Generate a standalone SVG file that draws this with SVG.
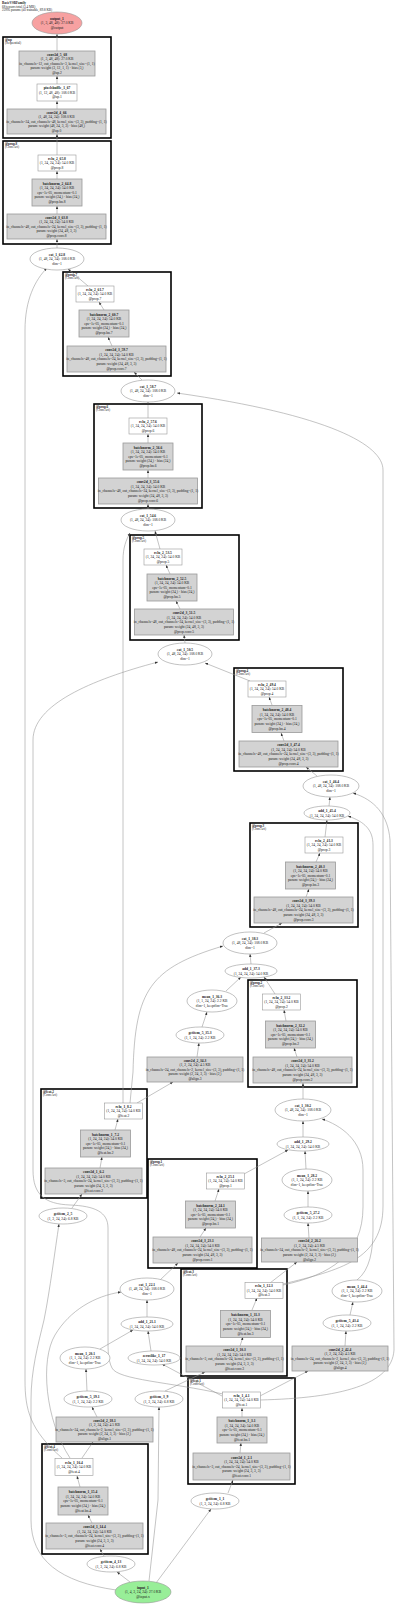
<svg xmlns="http://www.w3.org/2000/svg" width="400" height="1605" viewBox="0 0 400 1605">
<defs>
<marker id="a" viewBox="0 0 10 10" refX="10" refY="5" markerWidth="3" markerHeight="3" markerUnits="userSpaceOnUse" orient="auto"><path d="M0,1 L10,5 L0,9 z" fill="#333"/></marker>
<style>
text{font-family:"Liberation Serif",serif;font-size:3.6px;text-anchor:middle;fill:#222}
text.b{font-weight:bold}
text.h{text-anchor:start;font-size:3.3px}
rect.g{fill:#d3d3d3;stroke:#999;stroke-width:0.8}
rect.w{fill:#fff;stroke:#999;stroke-width:0.6}
ellipse.e{fill:#fff;stroke:#999;stroke-width:0.6}
rect.c{fill:none;stroke:#000;stroke-width:1.6}
#edges path{fill:none;stroke:#929292;stroke-width:0.55;marker-end:url(#a)}
</style>
</defs>
<rect width="400" height="1605" fill="#fff"/>
<g id="header">
<text class="h b" x="2" y="4">BasicVSRFamily</text>
<text class="h" x="2" y="7.5">68 tensors total (3.4 MB)</text>
<text class="h" x="2" y="11">22995 params (all trainable, 89.8 KB)</text>
</g>
<g id="clusters">
<g id="c_up"><rect class="c" x="3" y="37" width="108" height="101"/><text class="h b" x="5" y="40.5">@up</text><text class="h" x="5" y="44">(Sequential)</text></g>
<g id="c_prop8"><rect class="c" x="3" y="141" width="108" height="103"/><text class="h b" x="5" y="144.5">@prop.8</text><text class="h" x="5" y="148">(ConvAct)</text></g>
<g id="c_prop7"><rect class="c" x="63" y="272" width="108" height="104"/><text class="h b" x="65" y="275.5">@prop.7</text><text class="h" x="65" y="279">(ConvAct)</text></g>
<g id="c_prop6"><rect class="c" x="94" y="404" width="108" height="104"/><text class="h b" x="96" y="407.5">@prop.6</text><text class="h" x="96" y="411">(ConvAct)</text></g>
<g id="c_prop5"><rect class="c" x="130" y="535" width="109" height="105"/><text class="h b" x="132" y="538.5">@prop.5</text><text class="h" x="132" y="542">(ConvAct)</text></g>
<g id="c_prop4"><rect class="c" x="234" y="668" width="109" height="103"/><text class="h b" x="236" y="671.5">@prop.4</text><text class="h" x="236" y="675">(ConvAct)</text></g>
<g id="c_prop3"><rect class="c" x="250" y="823" width="108" height="104"/><text class="h b" x="252" y="826.5">@prop.3</text><text class="h" x="252" y="830">(ConvAct)</text></g>
<g id="c_prop2"><rect class="c" x="248" y="980" width="109" height="107"/><text class="h b" x="250" y="983.5">@prop.2</text><text class="h" x="250" y="987">(ConvAct)</text></g>
<g id="c_feat2"><rect class="c" x="41" y="1089" width="106" height="109"/><text class="h b" x="43" y="1092.5">@feat.2</text><text class="h" x="43" y="1096">(ConvAct)</text></g>
<g id="c_prop1"><rect class="c" x="148" y="1159" width="109" height="109"/><text class="h b" x="150" y="1162.5">@prop.1</text><text class="h" x="150" y="1166">(ConvAct)</text></g>
<g id="c_feat3"><rect class="c" x="181" y="1269" width="106" height="107"/><text class="h b" x="183" y="1272.5">@feat.3</text><text class="h" x="183" y="1276">(ConvAct)</text></g>
<g id="c_feat1"><rect class="c" x="188" y="1378" width="107" height="106"/><text class="h b" x="190" y="1381.5">@feat.1</text><text class="h" x="190" y="1385">(ConvAct)</text></g>
<g id="c_feat4"><rect class="c" x="42" y="1444" width="106" height="110"/><text class="h b" x="44" y="1447.5">@feat.4</text><text class="h" x="44" y="1451">(ConvAct)</text></g>
</g>
<g id="edges">
<path d="M57,109 L57,101"/>
<path d="M57,84 L57,76"/>
<path d="M57,51 L57,34"/>
<path d="M57,155 L57,134"/>
<path d="M57,179 L57,171"/>
<path d="M57,214 L57,206"/>
<path d="M57,248 L57,239"/>
<path d="M88,286 L68,269"/>
<path d="M104,310 L99,302"/>
<path d="M112,346 L108,337"/>
<path d="M142,380 L134,372"/>
<path d="M148,418 L148,402"/>
<path d="M148,443 L148,434"/>
<path d="M148,478 L148,470"/>
<path d="M148,509 L148,504"/>
<path d="M160,549 L155,531"/>
<path d="M170,574 L166,565"/>
<path d="M180,609 L176,601"/>
<path d="M185,643 L184,635"/>
<path d="M250,681 L205,663"/>
<path d="M272,705 L269,697"/>
<path d="M284,741 L281,733"/>
<path d="M317,776 L306,767"/>
<path d="M329,806 L330,797"/>
<path d="M325,837 L327,820"/>
<path d="M316,862 L320,853"/>
<path d="M306,897 L309,889"/>
<path d="M264,933 L282,923"/>
<path d="M251,964 L250,954"/>
<path d="M226,991 L241,977"/>
<path d="M275,994 L264,977"/>
<path d="M202,1027 L207,1012"/>
<path d="M197,1057 L199,1043"/>
<path d="M137,1103 L173,1082"/>
<path d="M297,1057 L294,1048"/>
<path d="M286,1021 L284,1010"/>
<path d="M303,1099 L303,1083"/>
<path d="M303,1137 L303,1121"/>
<path d="M244,1174 L288,1150"/>
<path d="M306,1169 L305,1151"/>
<path d="M308,1207 L308,1191"/>
<path d="M309,1238 L308,1223"/>
<path d="M270,1283 L297,1262"/>
<path d="M283,1285 C330,1275 363,1255 363,1207 L363,1170 C363,1140 340,1125 322,1119"/>
<path d="M283,1284 C340,1270 383,1260 383,1206 L383,470 C383,445 330,415 177,393"/>
<path d="M100,1168 L102,1157"/>
<path d="M115,1130 L118,1119"/>
<path d="M72,1208 L82,1194"/>
<path d="M123,1103 L123,560 C123,548 126,540 130,533"/>
<path d="M130,1103 L133,1072 C135,990 150,968 223,946"/>
<path d="M200,1237 L206,1228"/>
<path d="M215,1201 L219,1189"/>
<path d="M160,1280 L178,1263"/>
<path d="M147,1317 L147,1300"/>
<path d="M100,1349 L133,1330"/>
<path d="M151,1351 L148,1331"/>
<path d="M70,1458 C45,1420 40,1360 55,1335 C70,1310 95,1296 121,1292"/>
<path d="M240,1346 L243,1337"/>
<path d="M252,1310 L257,1298"/>
<path d="M165,1391 L205,1372"/>
<path d="M357,1280 C370,1270 373,1250 373,1230 L373,845 C373,830 365,822 348,816"/>
<path d="M350,1315 L353,1302"/>
<path d="M345,1346 L346,1331"/>
<path d="M260,1396 L308,1371"/>
<path d="M260,1400 C340,1398 392,1385 394,1350 L390,840 C388,815 375,800 353,793"/>
<path d="M223,1394 C170,1382 118,1380 112,1368 C108,1360 108,1350 108,1340 L108,1228 C108,1212 95,1206 70,1205 C45,1204 33,1195 33,1170 L33,740 C33,705 90,680 158,662"/>
<path d="M62,1458 C30,1430 25,1410 25,1380 L25,330 C25,300 35,280 47,268"/>
<path d="M116,1590 C60,1582 31,1560 31,1520 L31,1400 C31,1370 38,1345 44,1320 C50,1290 55,1250 59,1224"/>
<path d="M130,1582 L117,1572"/>
<path d="M149,1581 L158,1500 L159,1407"/>
<path d="M156,1583 L211,1509"/>
<path d="M228,1493 L233,1480"/>
<path d="M240,1453 L241,1443"/>
<path d="M242,1417 L242,1408"/>
<path d="M222,1396 L162,1364"/>
<path d="M104,1556 L100,1549"/>
<path d="M92,1523 L88,1515"/>
<path d="M80,1487 L77,1476"/>
<path d="M82,1458 L93,1442"/>
<path d="M97,1417 L92,1407"/>
<path d="M87,1391 L86,1369"/>
</g>
<g id="nodes">
<g id="n_output_1" transform="translate(57,23)"><ellipse cx="0" cy="0" rx="25" ry="11" fill="#f7a1a1" stroke="#999" stroke-width="0.6"/><text class="b" y="-3.3">output_1</text><text y="1.3">(1, 3, 48, 48): 27.0 KB</text><text y="5.9">@output</text></g>
<g id="n_conv2d_5_68" transform="translate(57,63.5)"><rect class="g" x="-38" y="-12.5" width="76" height="25"/><text class="b" y="-7.9">conv2d_5_68</text><text y="-3.3">(1, 3, 48, 48): 27.0 KB</text><text y="1.3">in_channels=12, out_channels=3, kernel_size=(1, 1)</text><text y="5.9">param: weight (3, 12, 1, 1) · bias (3,)</text><text y="10.5">@up.2</text></g>
<g id="n_pixelshuffle_1_67" transform="translate(57,92.5)"><rect class="w" x="-20" y="-8.5" width="40" height="17"/><text class="b" y="-3.3">pixelshuffle_1_67</text><text y="1.3">(1, 12, 48, 48): 108.0 KB</text><text y="5.9">@up.1</text></g>
<g id="n_conv2d_4_66" transform="translate(56.5,121.5)"><rect class="g" x="-49.5" y="-12.5" width="99" height="25"/><text class="b" y="-7.9">conv2d_4_66</text><text y="-3.3">(1, 48, 24, 24): 108.0 KB</text><text y="1.3">in_channels=24, out_channels=48, kernel_size=(3, 3), padding=(1, 1)</text><text y="5.9">param: weight (48, 24, 3, 3) · bias (48,)</text><text y="10.5">@up.0</text></g>

<g id="n_relu_2_65" transform="translate(57,163)"><rect class="w" x="-19" y="-8" width="38" height="16"/><text class="b" y="-3.3">relu_2_65.8</text><text y="1.3">(1, 24, 24, 24): 54.0 KB</text><text y="5.9">@prop.8</text></g>
<g id="n_batchnorm_2_64" transform="translate(57,192.5)"><rect class="g" x="-25" y="-13.5" width="50" height="27"/><text class="b" y="-7.9">batchnorm_2_64.8</text><text y="-3.3">(1, 24, 24, 24): 54.0 KB</text><text y="1.3">eps=1e-05, momentum=0.1</text><text y="5.9">param: weight (24,) · bias (24,)</text><text y="10.5">@prop.bn.8</text></g>
<g id="n_conv2d_3_63" transform="translate(56.5,226.5)"><rect class="g" x="-49.5" y="-12.5" width="99" height="25"/><text class="b" y="-7.9">conv2d_3_63.8</text><text y="-3.3">(1, 24, 24, 24): 54.0 KB</text><text y="1.3">in_channels=48, out_channels=24, kernel_size=(3, 3), padding=(1, 1)</text><text y="5.9">param: weight (24, 48, 3, 3)</text><text y="10.5">@prop.conv.8</text></g>
<g id="n_cat_1_62" transform="translate(57,259)"><ellipse class="e" rx="27" ry="11"/><text class="b" y="-3.3">cat_1_62.8</text><text y="1.3">(1, 48, 24, 24): 108.0 KB</text><text y="5.9">dim=1</text></g>

<g id="n_relu_2_61" transform="translate(95,294)"><rect class="w" x="-19" y="-8" width="38" height="16"/><text class="b" y="-3.3">relu_2_61.7</text><text y="1.3">(1, 24, 24, 24): 54.0 KB</text><text y="5.9">@prop.7</text></g>
<g id="n_batchnorm_2_60" transform="translate(104,323.5)"><rect class="g" x="-25" y="-13.5" width="50" height="27"/><text class="b" y="-7.9">batchnorm_2_60.7</text><text y="-3.3">(1, 24, 24, 24): 54.0 KB</text><text y="1.3">eps=1e-05, momentum=0.1</text><text y="5.9">param: weight (24,) · bias (24,)</text><text y="10.5">@prop.bn.7</text></g>
<g id="n_conv2d_3_59" transform="translate(116.5,359)"><rect class="g" x="-49.5" y="-13" width="99" height="26"/><text class="b" y="-7.9">conv2d_3_59.7</text><text y="-3.3">(1, 24, 24, 24): 54.0 KB</text><text y="1.3">in_channels=48, out_channels=24, kernel_size=(3, 3), padding=(1, 1)</text><text y="5.9">param: weight (24, 48, 3, 3)</text><text y="10.5">@prop.conv.7</text></g>
<g id="n_cat_1_58" transform="translate(148,391)"><ellipse class="e" rx="27" ry="11"/><text class="b" y="-3.3">cat_1_58.7</text><text y="1.3">(1, 48, 24, 24): 108.0 KB</text><text y="5.9">dim=1</text></g>

<g id="n_relu_2_57" transform="translate(148,426)"><rect class="w" x="-19" y="-8" width="38" height="16"/><text class="b" y="-3.3">relu_2_57.6</text><text y="1.3">(1, 24, 24, 24): 54.0 KB</text><text y="5.9">@prop.6</text></g>
<g id="n_batchnorm_2_56" transform="translate(148,456.5)"><rect class="g" x="-25" y="-13.5" width="50" height="27"/><text class="b" y="-7.9">batchnorm_2_56.6</text><text y="-3.3">(1, 24, 24, 24): 54.0 KB</text><text y="1.3">eps=1e-05, momentum=0.1</text><text y="5.9">param: weight (24,) · bias (24,)</text><text y="10.5">@prop.bn.6</text></g>
<g id="n_conv2d_3_55" transform="translate(148,491)"><rect class="g" x="-49.5" y="-13" width="99" height="26"/><text class="b" y="-7.9">conv2d_3_55.6</text><text y="-3.3">(1, 24, 24, 24): 54.0 KB</text><text y="1.3">in_channels=48, out_channels=24, kernel_size=(3, 3), padding=(1, 1)</text><text y="5.9">param: weight (24, 48, 3, 3)</text><text y="10.5">@prop.conv.6</text></g>
<g id="n_cat_1_54" transform="translate(148,520)"><ellipse class="e" rx="27" ry="11"/><text class="b" y="-3.3">cat_1_54.6</text><text y="1.3">(1, 48, 24, 24): 108.0 KB</text><text y="5.9">dim=1</text></g>

<g id="n_relu_2_53" transform="translate(163,557)"><rect class="w" x="-19" y="-8" width="38" height="16"/><text class="b" y="-3.3">relu_2_53.5</text><text y="1.3">(1, 24, 24, 24): 54.0 KB</text><text y="5.9">@prop.5</text></g>
<g id="n_batchnorm_2_52" transform="translate(172,587.5)"><rect class="g" x="-25" y="-13.5" width="50" height="27"/><text class="b" y="-7.9">batchnorm_2_52.5</text><text y="-3.3">(1, 24, 24, 24): 54.0 KB</text><text y="1.3">eps=1e-05, momentum=0.1</text><text y="5.9">param: weight (24,) · bias (24,)</text><text y="10.5">@prop.bn.5</text></g>
<g id="n_conv2d_3_51" transform="translate(184,622)"><rect class="g" x="-49.5" y="-13" width="99" height="26"/><text class="b" y="-7.9">conv2d_3_51.5</text><text y="-3.3">(1, 24, 24, 24): 54.0 KB</text><text y="1.3">in_channels=48, out_channels=24, kernel_size=(3, 3), padding=(1, 1)</text><text y="5.9">param: weight (24, 48, 3, 3)</text><text y="10.5">@prop.conv.5</text></g>
<g id="n_cat_1_50" transform="translate(185,654)"><ellipse class="e" rx="27" ry="11"/><text class="b" y="-3.3">cat_1_50.5</text><text y="1.3">(1, 48, 24, 24): 108.0 KB</text><text y="5.9">dim=1</text></g>

<g id="n_relu_2_49" transform="translate(267,689)"><rect class="w" x="-19" y="-8" width="38" height="16"/><text class="b" y="-3.3">relu_2_49.4</text><text y="1.3">(1, 24, 24, 24): 54.0 KB</text><text y="5.9">@prop.4</text></g>
<g id="n_batchnorm_2_48" transform="translate(277,719)"><rect class="g" x="-25" y="-13.5" width="50" height="27"/><text class="b" y="-7.9">batchnorm_2_48.4</text><text y="-3.3">(1, 24, 24, 24): 54.0 KB</text><text y="1.3">eps=1e-05, momentum=0.1</text><text y="5.9">param: weight (24,) · bias (24,)</text><text y="10.5">@prop.bn.4</text></g>
<g id="n_conv2d_3_47" transform="translate(288.5,754)"><rect class="g" x="-49.5" y="-13" width="99" height="26"/><text class="b" y="-7.9">conv2d_3_47.4</text><text y="-3.3">(1, 24, 24, 24): 54.0 KB</text><text y="1.3">in_channels=48, out_channels=24, kernel_size=(3, 3), padding=(1, 1)</text><text y="5.9">param: weight (24, 48, 3, 3)</text><text y="10.5">@prop.conv.4</text></g>
<g id="n_cat_1_46" transform="translate(331,786)"><ellipse class="e" rx="28" ry="11"/><text class="b" y="-3.3">cat_1_46.4</text><text y="1.3">(1, 48, 24, 24): 108.0 KB</text><text y="5.9">dim=1</text></g>
<g id="n_add_1_45" transform="translate(327,813)"><ellipse class="e" rx="23" ry="7"/><text class="b" y="-1">add_1_45.4</text><text y="3.6">(1, 24, 24, 24): 54.0 KB</text></g>

<g id="n_relu_2_41" transform="translate(324,845)"><rect class="w" x="-19" y="-8" width="38" height="16"/><text class="b" y="-3.3">relu_2_41.3</text><text y="1.3">(1, 24, 24, 24): 54.0 KB</text><text y="5.9">@prop.3</text></g>
<g id="n_batchnorm_2_40" transform="translate(310.5,875.5)"><rect class="g" x="-25" y="-13.5" width="50" height="27"/><text class="b" y="-7.9">batchnorm_2_40.3</text><text y="-3.3">(1, 24, 24, 24): 54.0 KB</text><text y="1.3">eps=1e-05, momentum=0.1</text><text y="5.9">param: weight (24,) · bias (24,)</text><text y="10.5">@prop.bn.3</text></g>
<g id="n_conv2d_3_39" transform="translate(303.5,910)"><rect class="g" x="-49.5" y="-13" width="99" height="26"/><text class="b" y="-7.9">conv2d_3_39.3</text><text y="-3.3">(1, 24, 24, 24): 54.0 KB</text><text y="1.3">in_channels=48, out_channels=24, kernel_size=(3, 3), padding=(1, 1)</text><text y="5.9">param: weight (24, 48, 3, 3)</text><text y="10.5">@prop.conv.3</text></g>
<g id="n_cat_1_38" transform="translate(250,943)"><ellipse class="e" rx="27" ry="11"/><text class="b" y="-3.3">cat_1_38.3</text><text y="1.3">(1, 48, 24, 24): 108.0 KB</text><text y="5.9">dim=1</text></g>
<g id="n_add_1_37" transform="translate(251,971)"><ellipse class="e" rx="26" ry="7"/><text class="b" y="-1">add_1_37.3</text><text y="3.6">(1, 24, 24, 24): 54.0 KB</text></g>
<g id="n_mean_1_36" transform="translate(212,1001)"><ellipse class="e" rx="25" ry="11"/><text class="b" y="-3.3">mean_1_36.3</text><text y="1.3">(1, 1, 24, 24): 2.2 KB</text><text y="5.9">dim=1, keepdim=True</text></g>
<g id="n_getitem_35" transform="translate(200,1035)"><ellipse class="e" rx="24" ry="8"/><text class="b" y="-1">getitem_5_35.3</text><text y="3.6">(1, 1, 24, 24): 2.2 KB</text></g>
<g id="n_conv2d_2_34" transform="translate(195,1069.5)"><rect class="g" x="-48" y="-12.5" width="96" height="25"/><text class="b" y="-7.9">conv2d_2_34.3</text><text y="-3.3">(1, 2, 24, 24): 4.5 KB</text><text y="1.3">in_channels=24, out_channels=2, kernel_size=(3, 3), padding=(1, 1)</text><text y="5.9">param: weight (2, 24, 3, 3) · bias (2,)</text><text y="10.5">@align.3</text></g>

<g id="n_relu_2_33" transform="translate(281.5,1002)"><rect class="w" x="-19" y="-8" width="38" height="16"/><text class="b" y="-3.3">relu_2_33.2</text><text y="1.3">(1, 24, 24, 24): 54.0 KB</text><text y="5.9">@prop.2</text></g>
<g id="n_batchnorm_2_32" transform="translate(290.5,1034.5)"><rect class="g" x="-25" y="-13.5" width="50" height="27"/><text class="b" y="-7.9">batchnorm_2_32.2</text><text y="-3.3">(1, 24, 24, 24): 54.0 KB</text><text y="1.3">eps=1e-05, momentum=0.1</text><text y="5.9">param: weight (24,) · bias (24,)</text><text y="10.5">@prop.bn.2</text></g>
<g id="n_conv2d_3_31" transform="translate(302.5,1070)"><rect class="g" x="-49.5" y="-13" width="99" height="26"/><text class="b" y="-7.9">conv2d_3_31.2</text><text y="-3.3">(1, 24, 24, 24): 54.0 KB</text><text y="1.3">in_channels=48, out_channels=24, kernel_size=(3, 3), padding=(1, 1)</text><text y="5.9">param: weight (24, 48, 3, 3)</text><text y="10.5">@prop.conv.2</text></g>
<g id="n_cat_1_30" transform="translate(303,1110)"><ellipse class="e" rx="28" ry="11"/><text class="b" y="-3.3">cat_1_30.2</text><text y="1.3">(1, 48, 24, 24): 108.0 KB</text><text y="5.9">dim=1</text></g>
<g id="n_add_1_29" transform="translate(303,1144)"><ellipse class="e" rx="26" ry="7"/><text class="b" y="-1">add_1_29.2</text><text y="3.6">(1, 24, 24, 24): 54.0 KB</text></g>
<g id="n_mean_1_28" transform="translate(307,1180)"><ellipse class="e" rx="25" ry="11"/><text class="b" y="-3.3">mean_1_28.2</text><text y="1.3">(1, 1, 24, 24): 2.2 KB</text><text y="5.9">dim=1, keepdim=True</text></g>
<g id="n_getitem_27" transform="translate(308,1215)"><ellipse class="e" rx="24" ry="8"/><text class="b" y="-1">getitem_5_27.2</text><text y="3.6">(1, 1, 24, 24): 2.2 KB</text></g>
<g id="n_conv2d_2_26" transform="translate(309.5,1250)"><rect class="g" x="-48" y="-12" width="96" height="24"/><text class="b" y="-7.9">conv2d_2_26.2</text><text y="-3.3">(1, 2, 24, 24): 4.5 KB</text><text y="1.3">in_channels=24, out_channels=2, kernel_size=(3, 3), padding=(1, 1)</text><text y="5.9">param: weight (2, 24, 3, 3) · bias (2,)</text><text y="10.5">@align.2</text></g>

<g id="n_relu_1_8" transform="translate(123.5,1111)"><rect class="w" x="-19" y="-8" width="38" height="16"/><text class="b" y="-3.3">relu_1_8.2</text><text y="1.3">(1, 24, 24, 24): 54.0 KB</text><text y="5.9">@feat.2</text></g>
<g id="n_batchnorm_1_7" transform="translate(105.5,1143.5)"><rect class="g" x="-25" y="-13.5" width="50" height="27"/><text class="b" y="-7.9">batchnorm_1_7.2</text><text y="-3.3">(1, 24, 24, 24): 54.0 KB</text><text y="1.3">eps=1e-05, momentum=0.1</text><text y="5.9">param: weight (24,) · bias (24,)</text><text y="10.5">@feat.bn.2</text></g>
<g id="n_conv2d_1_6" transform="translate(93.5,1181)"><rect class="g" x="-48.5" y="-13" width="97" height="26"/><text class="b" y="-7.9">conv2d_1_6.2</text><text y="-3.3">(1, 24, 24, 24): 54.0 KB</text><text y="1.3">in_channels=3, out_channels=24, kernel_size=(3, 3), padding=(1, 1)</text><text y="5.9">param: weight (24, 3, 3, 3)</text><text y="10.5">@feat.conv.2</text></g>
<g id="n_getitem_5" transform="translate(63,1216)"><ellipse class="e" rx="24" ry="8"/><text class="b" y="-1">getitem_2_5</text><text y="3.6">(1, 3, 24, 24): 6.8 KB</text></g>

<g id="n_relu_2_25" transform="translate(225.5,1181)"><rect class="w" x="-19" y="-8" width="38" height="16"/><text class="b" y="-3.3">relu_2_25.1</text><text y="1.3">(1, 24, 24, 24): 54.0 KB</text><text y="5.9">@prop.1</text></g>
<g id="n_batchnorm_2_24" transform="translate(210.5,1214.5)"><rect class="g" x="-25" y="-13.5" width="50" height="27"/><text class="b" y="-7.9">batchnorm_2_24.1</text><text y="-3.3">(1, 24, 24, 24): 54.0 KB</text><text y="1.3">eps=1e-05, momentum=0.1</text><text y="5.9">param: weight (24,) · bias (24,)</text><text y="10.5">@prop.bn.1</text></g>
<g id="n_conv2d_3_23" transform="translate(202.5,1250)"><rect class="g" x="-49.5" y="-13" width="99" height="26"/><text class="b" y="-7.9">conv2d_3_23.1</text><text y="-3.3">(1, 24, 24, 24): 54.0 KB</text><text y="1.3">in_channels=48, out_channels=24, kernel_size=(3, 3), padding=(1, 1)</text><text y="5.9">param: weight (24, 48, 3, 3)</text><text y="10.5">@prop.conv.1</text></g>
<g id="n_cat_1_22" transform="translate(147,1289)"><ellipse class="e" rx="27" ry="11"/><text class="b" y="-3.3">cat_1_22.1</text><text y="1.3">(1, 48, 24, 24): 108.0 KB</text><text y="5.9">dim=1</text></g>
<g id="n_add_1_21" transform="translate(147,1324)"><ellipse class="e" rx="26" ry="7"/><text class="b" y="-1">add_1_21.1</text><text y="3.6">(1, 24, 24, 24): 54.0 KB</text></g>

<g id="n_relu_1_12" transform="translate(264,1290.5)"><rect class="w" x="-19" y="-8" width="38" height="16"/><text class="b" y="-3.3">relu_1_12.3</text><text y="1.3">(1, 24, 24, 24): 54.0 KB</text><text y="5.9">@feat.3</text></g>
<g id="n_batchnorm_1_11" transform="translate(245.5,1324)"><rect class="g" x="-25" y="-13.5" width="50" height="27"/><text class="b" y="-7.9">batchnorm_1_11.3</text><text y="-3.3">(1, 24, 24, 24): 54.0 KB</text><text y="1.3">eps=1e-05, momentum=0.1</text><text y="5.9">param: weight (24,) · bias (24,)</text><text y="10.5">@feat.bn.3</text></g>
<g id="n_conv2d_1_10" transform="translate(234.5,1359)"><rect class="g" x="-48.5" y="-13" width="97" height="26"/><text class="b" y="-7.9">conv2d_1_10.3</text><text y="-3.3">(1, 24, 24, 24): 54.0 KB</text><text y="1.3">in_channels=3, out_channels=24, kernel_size=(3, 3), padding=(1, 1)</text><text y="5.9">param: weight (24, 3, 3, 3)</text><text y="10.5">@feat.conv.3</text></g>

<g id="n_mean_1_44" transform="translate(357,1291)"><ellipse class="e" rx="25" ry="11"/><text class="b" y="-3.3">mean_1_44.4</text><text y="1.3">(1, 1, 24, 24): 2.2 KB</text><text y="5.9">dim=1, keepdim=True</text></g>
<g id="n_getitem_43" transform="translate(347,1323)"><ellipse class="e" rx="24" ry="8"/><text class="b" y="-1">getitem_5_43.4</text><text y="3.6">(1, 1, 24, 24): 2.2 KB</text></g>
<g id="n_conv2d_2_42" transform="translate(340,1358.5)"><rect class="g" x="-48" y="-12.5" width="96" height="25"/><text class="b" y="-7.9">conv2d_2_42.4</text><text y="-3.3">(1, 2, 24, 24): 4.5 KB</text><text y="1.3">in_channels=24, out_channels=2, kernel_size=(3, 3), padding=(1, 1)</text><text y="5.9">param: weight (2, 24, 3, 3) · bias (2,)</text><text y="10.5">@align.4</text></g>

<g id="n_mean_1_20" transform="translate(85,1358)"><ellipse class="e" rx="25" ry="11"/><text class="b" y="-3.3">mean_1_20.1</text><text y="1.3">(1, 1, 24, 24): 2.2 KB</text><text y="5.9">dim=1, keepdim=True</text></g>
<g id="n_zeroslike_1_17" transform="translate(154,1358)"><ellipse class="e" rx="26" ry="7"/><text class="b" y="-1">zeroslike_1_17</text><text y="3.6">(1, 24, 24, 24): 54.0 KB</text></g>
<g id="n_getitem_19" transform="translate(88,1399)"><ellipse class="e" rx="24" ry="8"/><text class="b" y="-1">getitem_5_19.1</text><text y="3.6">(1, 1, 24, 24): 2.2 KB</text></g>
<g id="n_getitem_9" transform="translate(159,1399)"><ellipse class="e" rx="24" ry="8"/><text class="b" y="-1">getitem_3_9</text><text y="3.6">(1, 3, 24, 24): 6.8 KB</text></g>
<g id="n_conv2d_2_18" transform="translate(104.5,1429.5)"><rect class="g" x="-48.5" y="-12.5" width="97" height="25"/><text class="b" y="-7.9">conv2d_2_18.1</text><text y="-3.3">(1, 2, 24, 24): 4.5 KB</text><text y="1.3">in_channels=24, out_channels=2, kernel_size=(3, 3), padding=(1, 1)</text><text y="5.9">param: weight (2, 24, 3, 3) · bias (2,)</text><text y="10.5">@align.1</text></g>

<g id="n_relu_1_4" transform="translate(241.5,1400)"><rect class="w" x="-19" y="-8" width="38" height="16"/><text class="b" y="-3.3">relu_1_4.1</text><text y="1.3">(1, 24, 24, 24): 54.0 KB</text><text y="5.9">@feat.1</text></g>
<g id="n_batchnorm_1_3" transform="translate(242,1430)"><rect class="g" x="-25" y="-13" width="50" height="26"/><text class="b" y="-7.9">batchnorm_1_3.1</text><text y="-3.3">(1, 24, 24, 24): 54.0 KB</text><text y="1.3">eps=1e-05, momentum=0.1</text><text y="5.9">param: weight (24,) · bias (24,)</text><text y="10.5">@feat.bn.1</text></g>
<g id="n_conv2d_1_2" transform="translate(241.5,1466.5)"><rect class="g" x="-48.5" y="-13.5" width="97" height="27"/><text class="b" y="-7.9">conv2d_1_2.1</text><text y="-3.3">(1, 24, 24, 24): 54.0 KB</text><text y="1.3">in_channels=3, out_channels=24, kernel_size=(3, 3), padding=(1, 1)</text><text y="5.9">param: weight (24, 3, 3, 3)</text><text y="10.5">@feat.conv.1</text></g>

<g id="n_relu_1_16" transform="translate(74,1467)"><rect class="w" x="-19" y="-8.5" width="38" height="17"/><text class="b" y="-3.3">relu_1_16.4</text><text y="1.3">(1, 24, 24, 24): 54.0 KB</text><text y="5.9">@feat.4</text></g>
<g id="n_batchnorm_1_15" transform="translate(83,1501)"><rect class="g" x="-25" y="-14" width="50" height="28"/><text class="b" y="-7.9">batchnorm_1_15.4</text><text y="-3.3">(1, 24, 24, 24): 54.0 KB</text><text y="1.3">eps=1e-05, momentum=0.1</text><text y="5.9">param: weight (24,) · bias (24,)</text><text y="10.5">@feat.bn.4</text></g>
<g id="n_conv2d_1_14" transform="translate(94.5,1536)"><rect class="g" x="-48.5" y="-13" width="97" height="26"/><text class="b" y="-7.9">conv2d_1_14.4</text><text y="-3.3">(1, 24, 24, 24): 54.0 KB</text><text y="1.3">in_channels=3, out_channels=24, kernel_size=(3, 3), padding=(1, 1)</text><text y="5.9">param: weight (24, 3, 3, 3)</text><text y="10.5">@feat.conv.4</text></g>
<g id="n_getitem_13" transform="translate(111,1564)"><ellipse class="e" rx="24" ry="8"/><text class="b" y="-1">getitem_4_13</text><text y="3.6">(1, 3, 24, 24): 6.8 KB</text></g>
<g id="n_getitem_1" transform="translate(215,1501)"><ellipse class="e" rx="24" ry="8"/><text class="b" y="-1">getitem_1_1</text><text y="3.6">(1, 3, 24, 24): 6.8 KB</text></g>
<g id="n_input_1" transform="translate(143,1592)"><ellipse rx="28" ry="11" fill="#98ee98" stroke="#999" stroke-width="0.6"/><text class="b" y="-3.3">input_1</text><text y="1.3">(1, 4, 3, 24, 24): 27.0 KB</text><text y="5.9">@input.x</text></g>
</g>
</svg>
